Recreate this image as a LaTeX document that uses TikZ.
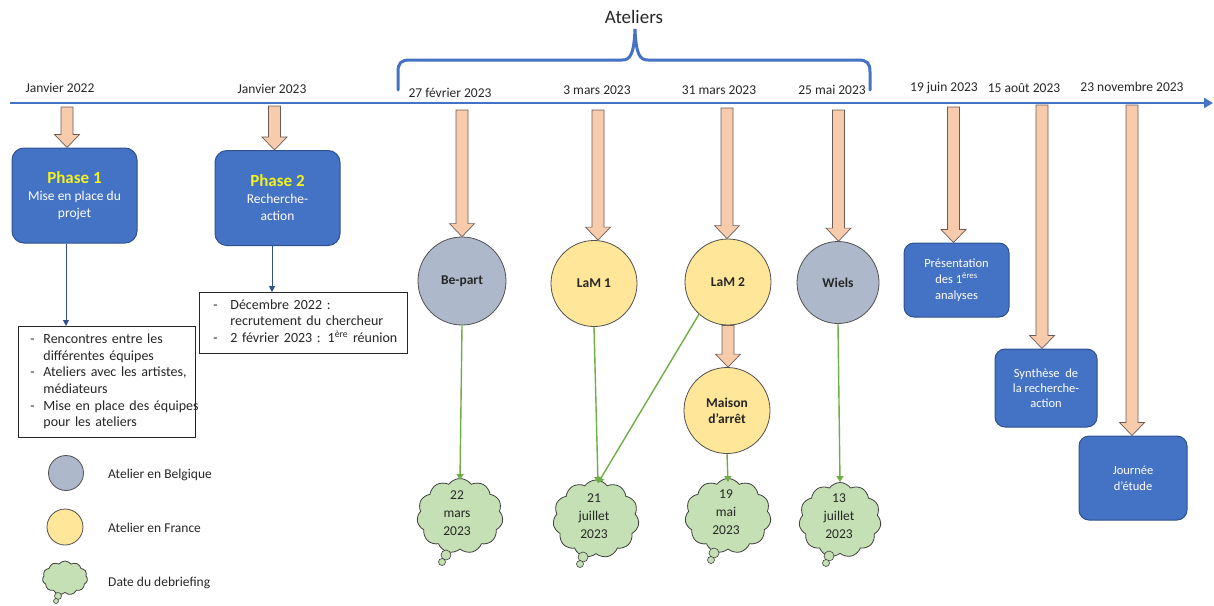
\documentclass[tikz,border=0pt]{standalone}
\usepackage{fontspec}
\setmainfont{Carlito}
\usetikzlibrary{calc,shapes.symbols,arrows.meta}
\definecolor{tlblue}{HTML}{4472C4}
\definecolor{boxblue}{HTML}{4472C4}
\definecolor{boxline}{HTML}{2F528F}
\definecolor{salmon}{HTML}{F8CBAD}
\definecolor{salline}{HTML}{6B5B55}
\definecolor{belg}{HTML}{ADB9CA}
\definecolor{fra}{HTML}{FFE699}
\definecolor{circline}{HTML}{505050}
\definecolor{cloudgreen}{HTML}{C5E0B4}
\definecolor{cloudline}{HTML}{404040}
\definecolor{grn}{HTML}{70AD47}
\definecolor{txt}{HTML}{262626}
\definecolor{phaseyellow}{HTML}{F2F21E}
\newcommand\itmdash[2]{\makebox[#1][l]{\hspace{#2}-}}
\begin{document}
\begin{tikzpicture}[x=1pt,y=-1pt,
  tl/.style={draw=tlblue, line width=2.5pt},
  datelbl/.style={font=\fontsize{13.5}{16}\selectfont, text=txt, inner sep=0pt},
  bluebox/.style={draw=boxline, fill=boxblue, rounded corners=12pt, line width=1pt, text=white, align=center, inner sep=0pt, font=\fontsize{13.5}{17}\selectfont},
  smallbox/.style={bluebox, font=\fontsize{12.5}{16}\selectfont},
  notebox/.style={draw=txt, line width=0.8pt, fill=white, text=txt, align=left, inner xsep=3pt, inner ysep=0pt, font=\fontsize{14}{16.6}\selectfont},
  bcircle/.style={circle, draw=circline, fill=belg, line width=0.8pt, inner sep=0pt, font=\fontsize{13.5}{16}\selectfont\bfseries, text=txt, align=center},
  fcircle/.style={bcircle, fill=fra},
  cloudy/.style={cloud, cloud puffs=11, cloud puff arc=110, cloud ignores aspect, draw=cloudline, fill=cloudgreen, line width=0.8pt, inner sep=0pt},
  cloudtxt/.style={font=\fontsize{13.5}{18}\selectfont, text=txt, align=center, inner sep=0pt},
  bubble/.style={circle, draw=cloudline, fill=cloudgreen, line width=0.6pt, inner sep=0pt},
  barrow/.style={draw=salline, fill=salmon, line width=0.7pt, to path={
     let \p1=(\tikztostart), \p2=(\tikztotarget) in
     (\x1-6pt,\y1) -- (\x1+6pt,\y1) -- (\x1+6pt,\y2+13pt) -- (\x1+12.5pt,\y2+13pt)
     -- (\x1,\y2) -- (\x1-12.5pt,\y2+13pt) -- (\x1-6pt,\y2+13pt) -- cycle}},
  thinarrow/.style={draw=boxline, line width=1pt, -{Triangle[length=6pt,width=6pt]}},
  greenarrow/.style={draw=grn, line width=1.4pt, -{Triangle[length=6pt,width=7pt]}},
  legtxt/.style={font=\fontsize{13.5}{16}\selectfont, text=txt, anchor=west, inner sep=0pt},
]
\useasboundingbox (0,0) rectangle (1214,605);

% timeline
\coordinate (tls) at (10,103);
\coordinate (tle) at (1213,103);
\draw[tl, -{Triangle[length=9pt,width=10pt]}] (tls) -- (tle);

% brace and title
\draw[tlblue, line width=3pt, line cap=round] (398,90) -- (398,72) .. controls (398,63) and (401,60) .. (410,60) -- (622,60) .. controls (630,60) and (634,55) .. (635,29) .. controls (636,55) and (640,60) .. (648,60) -- (858,60) .. controls (867,60) and (870,63) .. (870,72) -- (870,90);
\node[font=\fontsize{19}{22}\selectfont, text=txt, inner sep=0pt] (atel) at (634,17) {Ateliers};

% date labels
\node[datelbl] (d1) at (60,88) {Janvier 2022};
\node[datelbl] (d2) at (272,89) {Janvier 2023};
\node[datelbl] (d3) at (450,93) {27 février 2023};
\node[datelbl] (d4) at (597,90) {3 mars 2023};
\node[datelbl] (d5) at (719,90) {31 mars 2023};
\node[datelbl] (d6) at (832,90) {25 mai 2023};
\node[datelbl] (d7) at (944,88) {19 juin 2023};
\node[datelbl] (d8) at (1024,88) {15 août 2023};
\node[datelbl] (d9) at (1132,87) {23 novembre 2023};

% arrow start points on the timeline
\coordinate (ta1) at (67,107);
\coordinate (ta2) at (274.5,106);
\coordinate (tb) at (462,110);
\coordinate (tl1) at (598,110);
\coordinate (tl2) at (727,108);
\coordinate (tw) at (838.5,110);
\coordinate (tj) at (953.5,107);
\coordinate (tao) at (1042,105);
\coordinate (tno) at (1132,105);

% phase boxes
\node[bluebox, minimum width=125pt, minimum height=95pt] (p1) at (74.5,195.5)
  {\textcolor{phaseyellow}{\fontsize{17}{20}\selectfont\bfseries Phase 1}\\Mise en place du\\projet};
\node[bluebox, minimum width=125pt, minimum height=95pt] (p2) at (277.5,198)
  {\textcolor{phaseyellow}{\fontsize{17}{20}\selectfont\bfseries Phase 2}\\Recherche-\\action};

% note boxes
\node[notebox, anchor=north west, text width=171pt, minimum height=111pt] (b1) at (18,326)
  {\begin{tabular}{@{}l@{}l@{}}
   \itmdash{22pt}{9pt} & Rencontres entre les\\
   & différentes équipes\\
   \itmdash{22pt}{9pt} & Ateliers avec les artistes,\\
   & médiateurs\\
   \itmdash{22pt}{9pt} & Mise en place des équipes\\
   & pour les ateliers
   \end{tabular}};
\node[notebox, anchor=north west, text width=202pt, minimum height=61pt, font=\fontsize{14}{16.3}\selectfont] (b2) at (199,292)
  {\begin{tabular}{@{}l@{}l@{}}
   \itmdash{28pt}{11pt} & Décembre 2022 :\\
   & recrutement du chercheur\\
   \itmdash{28pt}{11pt} & 2 février 2023 : 1\textsuperscript{ère} réunion
   \end{tabular}};

\coordinate (x1) at (66,0);
\coordinate (x2) at (272,0);
\draw[thinarrow] (p1.south -| x1) -- (b1.north -| x1);
\draw[thinarrow] (p2.south -| x2) -- (b2.north -| x2);

% workshop circles
\node[bcircle, minimum size=88pt] (be) at (462,281) {Be-part};
\node[fcircle, minimum size=86pt] (lam1) at (594,283.5) {LaM 1};
\node[fcircle, minimum size=86pt] (lam2) at (728,282) {LaM 2};
\node[bcircle, minimum size=82pt] (wiels) at (838,282.5) {Wiels};
\node[fcircle, minimum size=86pt] (maison) at (727,410.5) {Maison\\d'arrêt};

% later boxes
\node[smallbox, minimum width=105pt, minimum height=74pt, rounded corners=10pt] (pres) at (956.5,280)
  {Présentation\\des 1\textsuperscript{ères}\\analyses};
\node[smallbox, minimum width=102pt, minimum height=78pt, rounded corners=10pt, font=\fontsize{12.5}{15}\selectfont] (synt) at (1046,388)
  {Synthèse\ \ de\\la recherche-\\action};
\node[smallbox, minimum width=108pt, minimum height=84pt, rounded corners=10pt] (jour) at (1133,478)
  {Journée\\d'étude};

% block arrows
\draw[barrow] (ta1) to (ta1 |- p1.north);
\draw[barrow] (ta2) to (ta2 |- p2.north);
\draw[barrow] (tb) to (tb |- be.north);
\draw[barrow] (tl1) to (tl1 |- lam1.north);
\draw[barrow] (tl2) to (tl2 |- lam2.north);
\draw[barrow] (tw) to (tw |- wiels.north);
\draw[barrow] (tj) to (tj |- pres.north);
\draw[barrow] (tao) to (tao |- synt.north);
\draw[barrow] (tno) to (tno |- jour.north);
\draw[barrow] (lam2.south) to (maison.north);

% debriefing clouds
\node[cloudy, minimum width=86pt, minimum height=75pt] (c1) at (460,516) {};
\node[cloudy, minimum width=86pt, minimum height=78pt] (c2) at (596,519) {};
\node[cloudy, minimum width=86pt, minimum height=75pt] (c3) at (728,516) {};
\node[cloudy, minimum width=82pt, minimum height=75pt] (c4) at (840,520) {};
\node[bubble, minimum size=10pt] (c1a) at (446,555) {};
\node[bubble, minimum size=7pt] (c1b) at (442,562) {};
\node[bubble, minimum size=10pt] (c2a) at (583,557) {};
\node[bubble, minimum size=7pt] (c2b) at (580,564) {};
\node[bubble, minimum size=10pt] (c3a) at (714,553) {};
\node[bubble, minimum size=7pt] (c3b) at (711,560) {};
\node[bubble, minimum size=10pt] (c4a) at (829,556) {};
\node[bubble, minimum size=7pt] (c4b) at (826,563) {};
\node[cloudtxt] (t1) at (457,513.5) {22\\mars\\2023};
\node[cloudtxt] (t2) at (594,516) {21\\juillet\\2023};
\node[cloudtxt] (t3) at (726,512.5) {19\\mai\\2023};
\node[cloudtxt] (t4) at (839,516) {13\\juillet\\2023};

% green connectors
\coordinate (c1t) at (460,480);
\coordinate (c2t) at (598,483);
\coordinate (c3t) at (728,482);
\coordinate (c4t) at (840,482);
\draw[greenarrow] (be.south) -- (c1t);
\draw[greenarrow] (lam1.south) -- (c2t);
\draw[greenarrow] (lam2.228) -- (c2t);
\draw[greenarrow] (maison.south) -- (c3t);
\draw[greenarrow] (wiels.south) -- (c4t);

% legend
\node[bcircle, minimum size=35pt] (lg1) at (66,473) {};
\node[fcircle, minimum size=36pt] (lg2) at (65,527) {};
\node[cloudy, minimum width=45pt, minimum height=34pt] (lg3) at (65,578) {};
\node[bubble, minimum size=7pt] (lg3a) at (58,596) {};
\node[bubble, minimum size=5pt] (lg3b) at (56,601) {};
\node[legtxt] (l1) at (108,475) {Atelier en Belgique};
\node[legtxt] (l2) at (108,528) {Atelier en France};
\node[legtxt] (l3) at (108,583) {Date du debriefing};
\end{tikzpicture}
\end{document}
